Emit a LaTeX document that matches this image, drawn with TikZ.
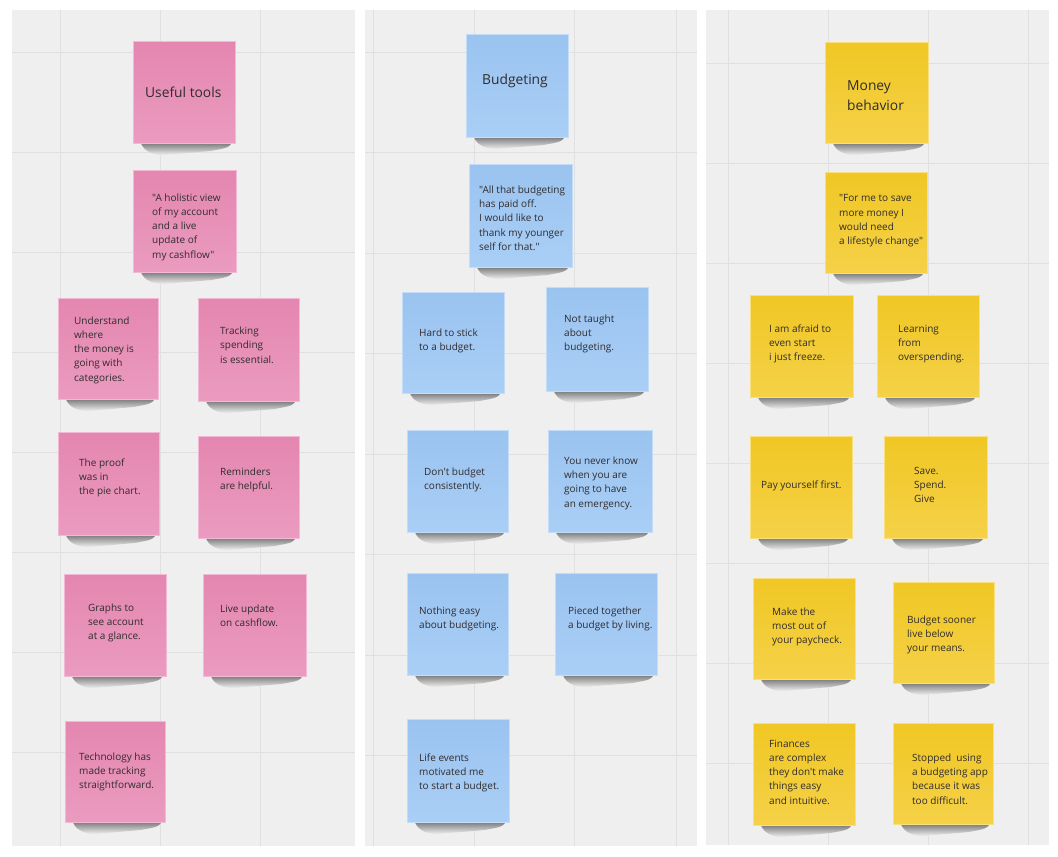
\documentclass[tikz,border=0pt]{standalone}
\usepackage{fontspec}
\newfontfamily\osans{Open Sans}
\definecolor{panelbg}{RGB}{239,239,239}
\definecolor{gridcol}{RGB}{224,224,224}
\definecolor{pinkT}{RGB}{228,134,176}
\definecolor{pinkB}{RGB}{235,155,192}
\definecolor{blueT}{RGB}{154,195,240}
\definecolor{blueB}{RGB}{170,207,246}
\definecolor{yelT}{RGB}{240,199,36}
\definecolor{yelB}{RGB}{245,209,72}
\definecolor{txtcol}{RGB}{48,44,46}
\definecolor{shadowtop}{RGB}{95,95,95}
\tikzset{
  pinknote/.style={inner sep=0, top color=pinkT, bottom color=pinkB, draw=pinkB!70!white, line width=0.5pt},
  bluenote/.style={inner sep=0, top color=blueT, bottom color=blueB, draw=blueB!70!white, line width=0.5pt},
  yelnote/.style={inner sep=0, top color=yelT, bottom color=yelB, draw=yelB!70!white, line width=0.5pt},
  notetext/.style={inner sep=0, align=left, text=txtcol, font=\osans\fontsize{10}{14.3}\selectfont},
  titletext/.style={inner sep=0, align=left, text=txtcol, font=\osans\fontsize{13.8}{20}\selectfont},
  panel/.style={fill=panelbg, draw=none},
  gridline/.style={draw=gridcol, line width=0.9pt},
  shadowband/.style={top color=shadowtop, bottom color=panelbg, draw=none}
}
\newcommand\snote[6]{%
  \shade[shadowband] (#3+7,#6-3) -- (#5-3,#6-3) to[out=-90,in=15] (#5-24,#6+8) -- (#3+30,#6+12) to[out=180,in=-80] cycle;
  \node[#2, anchor=north west, minimum width=#5pt-#3pt, minimum height=#6pt-#4pt] (#1) at (#3,#4) {};
}
\newcommand\ntext[4]{\node[notetext, anchor=west] (#1) at (#2,#3) {#4};}
\newcommand\ttext[4]{\node[titletext, anchor=west] (#1) at (#2,#3) {#4};}
\begin{document}
\begin{tikzpicture}[x=1pt,y=-1pt]
\useasboundingbox[fill=white] (0,0) rectangle (1058,857);
% panels
\path[panel] (12,10) rectangle (355,846);
\path[panel] (365,10) rectangle (697,846);
\path[panel] (706,10) rectangle (1049,845);
% grids
\begin{scope}
\clip (12,10) rectangle (355,846);
\foreach \x in {60,160,260} \draw[gridline] (\x,10) -- (\x,846);
\foreach \k in {0,...,7} \draw[gridline] (12,52+100*\k) -- (355,52+100*\k);
\end{scope}
\begin{scope}
\clip (365,10) rectangle (697,846);
\foreach \x in {373,474,574,676} \draw[gridline] (\x,10) -- (\x,846);
\foreach \k in {0,...,7} \draw[gridline] (365,52+100.5*\k) -- (697,52+100.5*\k);
\end{scope}
\begin{scope}
\clip (706,10) rectangle (1049,845);
\foreach \x in {728,828,928,1028} \draw[gridline] (\x,10) -- (\x,845);
\foreach \k in {0,...,7} \draw[gridline] (706,63+100*\k) -- (1049,63+100*\k);
\end{scope}
% ---------- Panel 1: Useful tools ----------
\snote{p0}{pinknote}{133}{41}{235}{143}
\ttext{tp0}{145}{92}{Useful tools}
\snote{p1}{pinknote}{133}{170}{236}{272}
\ntext{tp1}{152}{227}{"A holistic view\\of my account\\and a live\\update of\\my cashflow"}
\snote{p2}{pinknote}{58}{298}{158}{399}
\ntext{tp2}{74}{350}{Understand\\where\\the money is\\going with\\categories.}
\snote{p3}{pinknote}{198}{298}{299}{401}
\ntext{tp3}{220}{345}{Tracking\\spending\\is essential.}
\snote{p4}{pinknote}{58}{432}{159}{535}
\ntext{tp4}{79}{478}{The proof\\was in\\the pie chart.}
\snote{p5}{pinknote}{198}{436}{299}{538}
\ntext{tp5}{220}{480}{Reminders\\are helpful.}
\snote{p6}{pinknote}{64}{574}{166}{676}
\ntext{tp6}{88}{623}{Graphs to\\see account\\at a glance.}
\snote{p7}{pinknote}{203}{574}{306}{676}
\ntext{tp7}{220}{616}{Live update\\on cashflow.}
\snote{p8}{pinknote}{65}{721}{165}{822}
\ntext{tp8}{79}{772}{Technology has\\made tracking\\straightforward.}
% ---------- Panel 2: Budgeting ----------
\snote{b0}{bluenote}{466}{34}{568}{137}
\ttext{tb0}{482}{81}{Budgeting}
\snote{b1}{bluenote}{469}{164}{572}{267}
\ntext{tb1}{479}{218}{"All that budgeting\\has paid off.\\I would like to\\thank my younger\\self for that."}
\snote{b2}{bluenote}{402}{292}{504}{393}
\ntext{tb2}{419}{341}{Hard to stick\\to a budget.}
\snote{b3}{bluenote}{546}{287}{648}{391}
\ntext{tb3}{564}{334}{Not taught\\about\\budgeting.}
\snote{b4}{bluenote}{407}{430}{508}{532}
\ntext{tb4}{424}{480}{Don't budget\\consistently.}
\snote{b5}{bluenote}{548}{430}{652}{532}
\ntext{tb5}{564}{483}{You never know\\when you are\\going to have\\an emergency.}
\snote{b6}{bluenote}{407}{573}{508}{675}
\ntext{tb6}{419}{619}{Nothing easy\\about budgeting.}
\snote{b7}{bluenote}{555}{573}{657}{675}
\ntext{tb7}{568}{619}{Pieced together\\a budget by living.}
\snote{b8}{bluenote}{407}{719}{509}{822}
\ntext{tb8}{419}{773}{Life events\\motivated me\\to start a budget.}
% ---------- Panel 3: Money behavior ----------
\snote{y0}{yelnote}{825}{42}{928}{143}
\ttext{ty0}{847}{96}{Money\\behavior}
\snote{y1}{yelnote}{825}{172}{927}{273}
\ntext{ty1}{839}{221}{"For me to save\\more money I\\would need\\a lifestyle change"}
\snote{y2}{yelnote}{750}{295}{853}{397}
\ntext{ty2}{769}{344}{I am afraid to\\even start\\i just freeze.}
\snote{y3}{yelnote}{877}{295}{979}{397}
\ntext{ty3}{898}{344}{Learning\\from\\overspending.}
\snote{y4}{yelnote}{750}{436}{852}{538}
\ntext{ty4}{761}{486}{Pay yourself first.}
\snote{y5}{yelnote}{884}{436}{987}{538}
\ntext{ty5}{914}{485}{Save.\\Spend.\\Give}
\snote{y6}{yelnote}{753}{578}{855}{679}
\ntext{ty6}{772}{627}{Make the\\most out of\\your paycheck.}
\snote{y7}{yelnote}{893}{582}{994}{683}
\ntext{ty7}{907}{635}{Budget sooner\\live below\\your means.}
\snote{y8}{yelnote}{753}{723}{855}{825}
\ntext{ty8}{769}{772}{Finances\\are complex\\they don't make\\things easy\\and intuitive.}
\snote{y9}{yelnote}{893}{723}{993}{824}
\ntext{ty9}{912}{779}{Stopped~ using\\a budgeting app\\because it was\\too difficult.}
\end{tikzpicture}
\end{document}
